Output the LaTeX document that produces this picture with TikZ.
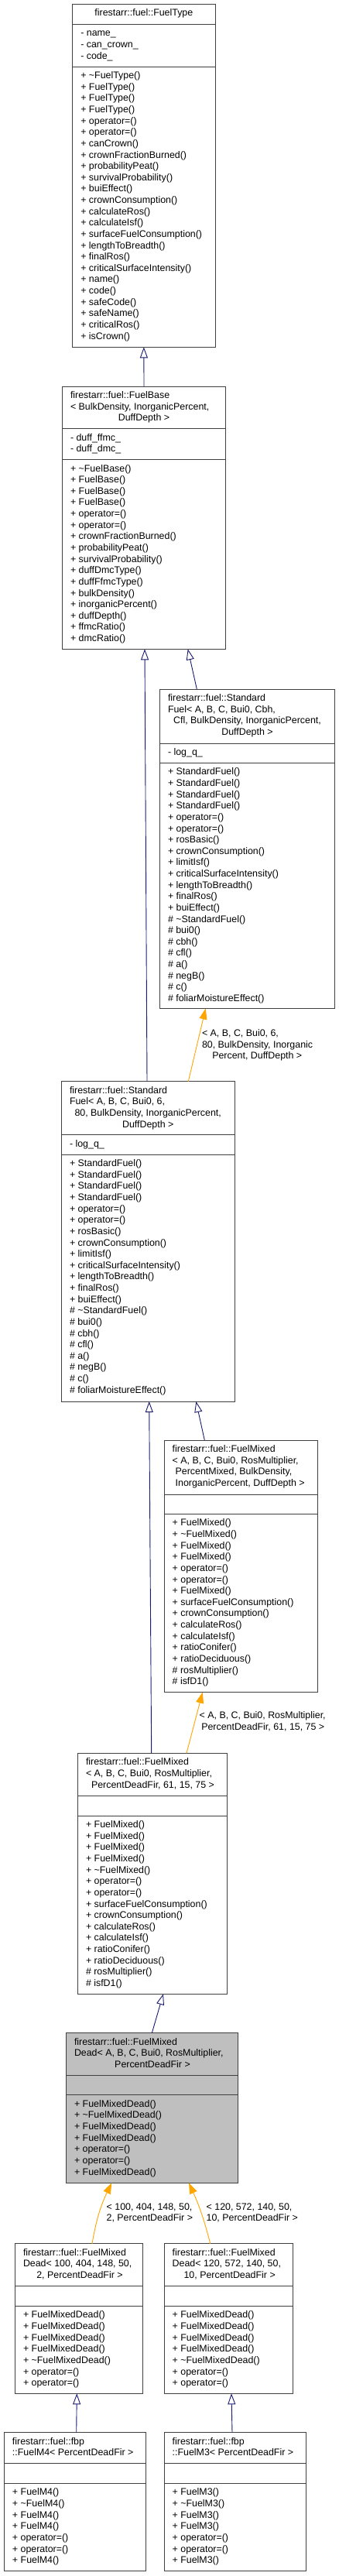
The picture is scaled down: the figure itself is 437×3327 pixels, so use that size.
\documentclass[tikz,border=0pt]{standalone}
\usepackage{fontspec}
\setmainfont{Liberation Sans}
\usetikzlibrary{arrows.meta}
\definecolor{midblue}{HTML}{191970}
\definecolor{tmplorange}{HTML}{FFA500}
\definecolor{hilite}{HTML}{BFBFBF}
\definecolor{boxline}{HTML}{404040}
\tikzset{
  txt/.style={inner sep=0pt, outer sep=0pt, font=\fontsize{12.4}{14.63}\selectfont},
  cls/.style={draw=boxline, line width=1pt, inner sep=0pt, outer sep=0pt, rectangle},
  sepline/.style={draw=boxline, line width=1pt},
  inh/.style={draw=midblue, line width=0.9pt, -{Triangle[open, length=14pt, width=10pt]}},
  tmpl/.style={draw=tmplorange, line width=0.9pt, -{Triangle[length=14pt, width=10pt, fill=tmplorange]}},
}
% #1 name, #2 L, #3 R, #4 T, #5 B, #6 S1, #7 S2, #8 fill
\newcommand\umlbox[8]{%
  \node[cls, fill=#8, minimum width={#3-#2}, minimum height={#5-#4}, anchor=north west] (#1) at (#2,#4) {};
  \draw[sepline] (#2,#6) -- (#3,#6);
  \draw[sepline] (#2,#7) -- (#3,#7);
}
% #1 prefix, #2 x, #3 first baseline, #4 list
\newcommand\mlines[4]{%
  \foreach \s [count=\i] in {#4}{\node[txt, anchor=base west] (#1-\i) at (#2,{#3+(\i-1)*14.63}) {\s};}%
}
\begin{document}
\begin{tikzpicture}[x=1pt, y=-1pt]
\useasboundingbox[fill=white] (0,0) rectangle (437,3327);

% ---------- FuelType
\umlbox{ft}{93}{278.7}{5.3}{448.3}{31.3}{86}{white}
\node[txt, anchor=base] (ft-t1) at (185.85,20.9) {firestarr::fuel::FuelType};
\mlines{ft-a}{104.3}{46.8}{- name\_, - can\_crown\_, - code\_}
\mlines{ft-m}{104.3}{101.6}{+ \textasciitilde FuelType(), + FuelType(), + FuelType(), + FuelType(), + operator=(), + operator=(), + canCrown(), + crownFractionBurned(), + probabilityPeat(), + survivalProbability(), + buiEffect(), + crownConsumption(), + calculateRos(), + calculateIsf(), + surfaceFuelConsumption(), + lengthToBreadth(), + finalRos(), + criticalSurfaceIntensity(), + name(), + code(), + safeCode(), + safeName(), + criticalRos(), + isCrown()}

% ---------- FuelBase
\umlbox{fb}{80.7}{291.3}{499}{838.3}{553.7}{593.5}{white}
\node[txt, anchor=base west] (fb-t1) at (91,514.6) {firestarr::fuel::FuelBase};
\node[txt, anchor=base west] (fb-t2) at (91,529.2) {< BulkDensity, InorganicPercent,};
\node[txt, anchor=base] (fb-t3) at (186,543.8) {DuffDepth >};
\mlines{fb-a}{91}{569.3}{- duff\_ffmc\_, - duff\_dmc\_}
\mlines{fb-m}{91}{609.1}{+ \textasciitilde FuelBase(), + FuelBase(), + FuelBase(), + FuelBase(), + operator=(), + operator=(), + crownFractionBurned(), + probabilityPeat(), + survivalProbability(), + duffDmcType(), + duffFfmcType(), + bulkDensity(), + inorganicPercent(), + duffDepth(), + ffmcRatio(), + dmcRatio()}

% ---------- StandardFuel (right, Cbh)
\umlbox{sfr}{206.7}{432.3}{890}{1302.5}{960}{985.3}{white}
\node[txt, anchor=base west] (sfr-t1) at (217,905.6) {firestarr::fuel::Standard};
\node[txt, anchor=base west] (sfr-t2) at (217,920.2) {Fuel< A, B, C, Bui0, Cbh,};
\node[txt, anchor=base] (sfr-t3) at (319.5,934.9) {Cfl, BulkDensity, InorganicPercent,};
\node[txt, anchor=base] (sfr-t4) at (319.5,949.5) {DuffDepth >};
\mlines{sfr-a}{217}{975.6}{- log\_q\_}
\mlines{sfr-m}{217}{1000.9}{+ StandardFuel(), + StandardFuel(), + StandardFuel(), + StandardFuel(), + operator=(), + operator=(), + rosBasic(), + crownConsumption(), + limitIsf(), + criticalSurfaceIntensity(), + lengthToBreadth(), + finalRos(), + buiEffect(), \# \textasciitilde StandardFuel(), \# bui0(), \# cbh(), \# cfl(), \# a(), \# negB(), \# c(), \# foliarMoistureEffect()}

% ---------- StandardFuel (left, 6, 80)
\umlbox{sfl}{79}{303.3}{1396.7}{1810}{1465.7}{1491}{white}
\node[txt, anchor=base west] (sfl-t1) at (90,1412.3) {firestarr::fuel::Standard};
\node[txt, anchor=base west] (sfl-t2) at (90,1426.9) {Fuel< A, B, C, Bui0, 6,};
\node[txt, anchor=base] (sfl-t3) at (191.2,1441.6) {80, BulkDensity, InorganicPercent,};
\node[txt, anchor=base] (sfl-t4) at (191.2,1456.2) {DuffDepth >};
\mlines{sfl-a}{90}{1481.3}{- log\_q\_}
\mlines{sfl-m}{90}{1506.6}{+ StandardFuel(), + StandardFuel(), + StandardFuel(), + StandardFuel(), + operator=(), + operator=(), + rosBasic(), + crownConsumption(), + limitIsf(), + criticalSurfaceIntensity(), + lengthToBreadth(), + finalRos(), + buiEffect(), \# \textasciitilde StandardFuel(), \# bui0(), \# cbh(), \# cfl(), \# a(), \# negB(), \# c(), \# foliarMoistureEffect()}

% ---------- FuelMixed (right, generic)
\umlbox{fmr}{212}{410.7}{1860}{2185.7}{1930}{1955.3}{white}
\node[txt, anchor=base west] (fmr-t1) at (222.7,1875.6) {firestarr::fuel::FuelMixed};
\node[txt, anchor=base west] (fmr-t2) at (222.7,1890.2) {< A, B, C, Bui0, RosMultiplier,};
\node[txt, anchor=base west] (fmr-t3) at (226.7,1904.9) {PercentMixed, BulkDensity,};
\node[txt, anchor=base west] (fmr-t4) at (226.7,1919.5) {InorganicPercent, DuffDepth >};
\mlines{fmr-m}{222.7}{1970.9}{+ FuelMixed(), + \textasciitilde FuelMixed(), + FuelMixed(), + FuelMixed(), + operator=(), + operator=(), + FuelMixed(), + surfaceFuelConsumption(), + crownConsumption(), + calculateRos(), + calculateIsf(), + ratioConifer(), + ratioDeciduous(), \# rosMultiplier(), \# isfD1()}

% ---------- FuelMixed (PercentDeadFir, 61, 15, 75)
\umlbox{fmp}{100}{293.3}{2264.3}{2575.2}{2319.2}{2345}{white}
\node[txt, anchor=base west] (fmp-t1) at (111,2279.9) {firestarr::fuel::FuelMixed};
\node[txt, anchor=base west] (fmp-t2) at (111,2294.5) {< A, B, C, Bui0, RosMultiplier,};
\node[txt, anchor=base] (fmp-t3) at (197.5,2309.2) {PercentDeadFir, 61, 15, 75 >};
\mlines{fmp-m}{111}{2360.6}{+ FuelMixed(), + FuelMixed(), + FuelMixed(), + FuelMixed(), + \textasciitilde FuelMixed(), + operator=(), + operator=(), + surfaceFuelConsumption(), + crownConsumption(), + calculateRos(), + calculateIsf(), + ratioConifer(), + ratioDeciduous(), \# rosMultiplier(), \# isfD1()}

% ---------- FuelMixedDead (highlighted)
\umlbox{fmd}{85.3}{307.7}{2625.7}{2819.3}{2680.7}{2705.7}{hilite}
\node[txt, anchor=base west] (fmd-t1) at (96,2641.3) {firestarr::fuel::FuelMixed};
\node[txt, anchor=base west] (fmd-t2) at (96,2655.9) {Dead< A, B, C, Bui0, RosMultiplier,};
\node[txt, anchor=base] (fmd-t3) at (197,2670.6) {PercentDeadFir >};
\mlines{fmd-m}{96}{2721.3}{+ FuelMixedDead(), + \textasciitilde FuelMixedDead(), + FuelMixedDead(), + FuelMixedDead(), + operator=(), + operator=(), + FuelMixedDead()}

% ---------- FuelMixedDead <100,...>
\umlbox{fmdl}{19}{184.3}{2897.7}{3091.3}{2952.5}{2978.3}{white}
\node[txt, anchor=base west] (fmdl-t1) at (30,2913.3) {firestarr::fuel::FuelMixed};
\node[txt, anchor=base west] (fmdl-t2) at (30,2927.9) {Dead< 100, 404, 148, 50,};
\node[txt, anchor=base] (fmdl-t3) at (103,2942.6) {2, PercentDeadFir >};
\mlines{fmdl-m}{30}{2993.9}{+ FuelMixedDead(), + FuelMixedDead(), + FuelMixedDead(), + FuelMixedDead(), + \textasciitilde FuelMixedDead(), + operator=(), + operator=()}

% ---------- FuelMixedDead <120,...>
\umlbox{fmdr}{212.3}{378.3}{2897.7}{3091.3}{2952.5}{2978.3}{white}
\node[txt, anchor=base west] (fmdr-t1) at (222.7,2913.3) {firestarr::fuel::FuelMixed};
\node[txt, anchor=base west] (fmdr-t2) at (222.7,2927.9) {Dead< 120, 572, 140, 50,};
\node[txt, anchor=base] (fmdr-t3) at (296.7,2942.6) {10, PercentDeadFir >};
\mlines{fmdr-m}{222.7}{2993.9}{+ FuelMixedDead(), + FuelMixedDead(), + FuelMixedDead(), + FuelMixedDead(), + \textasciitilde FuelMixedDead(), + operator=(), + operator=()}

% ---------- FuelM4
\umlbox{m4}{5}{188}{3141.7}{3320.7}{3181.7}{3207.3}{white}
\node[txt, anchor=base west] (m4-t1) at (16,3157.3) {firestarr::fuel::fbp};
\node[txt, anchor=base west] (m4-t2) at (16,3171.9) {::FuelM4< PercentDeadFir >};
\mlines{m4-m}{16}{3222.9}{+ FuelM4(), + \textasciitilde FuelM4(), + FuelM4(), + FuelM4(), + operator=(), + operator=(), + FuelM4()}

% ---------- FuelM3
\umlbox{m3}{212}{395}{3141.7}{3320.7}{3181.7}{3207.3}{white}
\node[txt, anchor=base west] (m3-t1) at (222.7,3157.3) {firestarr::fuel::fbp};
\node[txt, anchor=base west] (m3-t2) at (222.7,3171.9) {::FuelM3< PercentDeadFir >};
\mlines{m3-m}{222.7}{3222.9}{+ FuelM3(), + \textasciitilde FuelM3(), + FuelM3(), + FuelM3(), + operator=(), + operator=(), + FuelM3()}

% ---------- connectors
\draw[inh] (fb.north) -- (ft.south);
\draw[inh] ([xshift=47.6pt]sfr.north west) -- ([xshift=162pt]fb.south west);
\draw[inh] ([xshift=111pt]sfl.north west) -- ([xshift=106.3pt]fb.south west);
\draw[tmpl] ([xshift=164.3pt]sfl.north west) -- ([xshift=59pt]sfr.south west);
\draw[inh] ([xshift=52.3pt]fmr.north west) -- ([xshift=174.3pt]sfl.south west);
\draw[inh] ([xshift=95.7pt]fmp.north west) -- ([xshift=113.7pt]sfl.south west);
\draw[tmpl] ([xshift=141pt]fmp.north west) -- ([xshift=49.7pt]fmr.south west);
\draw[inh] ([xshift=111pt]fmd.north west) -- ([xshift=111pt]fmp.south west);
\draw[tmpl] ([xshift=100pt]fmdl.north west) to[bend left=8] ([xshift=59pt]fmd.south west);
\draw[tmpl] ([xshift=59.4pt]fmdr.north west) to[bend right=5] ([xshift=158.7pt]fmd.south west);
\draw[inh] ([xshift=93.7pt]m4.north west) -- ([xshift=80.3pt]fmdl.south west);
\draw[inh] ([xshift=88pt]m3.north west) -- ([xshift=86.7pt]fmdr.south west);

% ---------- edge labels
\node[txt, anchor=base west] (l1-1) at (261,1338.5) {< A, B, C, Bui0, 6,};
\node[txt, anchor=base west] (l1-2) at (261,1353.1) {80, BulkDensity, Inorganic};
\node[txt, anchor=base west] (l1-3) at (274.3,1367.7) {Percent, DuffDepth >};
\node[txt, anchor=base west] (l2-1) at (257.7,2219.5) {< A, B, C, Bui0, RosMultiplier,};
\node[txt, anchor=base west] (l2-2) at (260.3,2234.2) {PercentDeadFir, 61, 15, 75 >};
\node[txt, anchor=base west] (l3-1) at (137.7,2854.2) {< 100, 404, 148, 50,};
\node[txt, anchor=base west] (l3-2) at (137.7,2868.8) {2, PercentDeadFir >};
\node[txt, anchor=base west] (l4-1) at (266.7,2854.2) {< 120, 572, 140, 50,};
\node[txt, anchor=base west] (l4-2) at (266.7,2868.8) {10, PercentDeadFir >};
\end{tikzpicture}
\end{document}
